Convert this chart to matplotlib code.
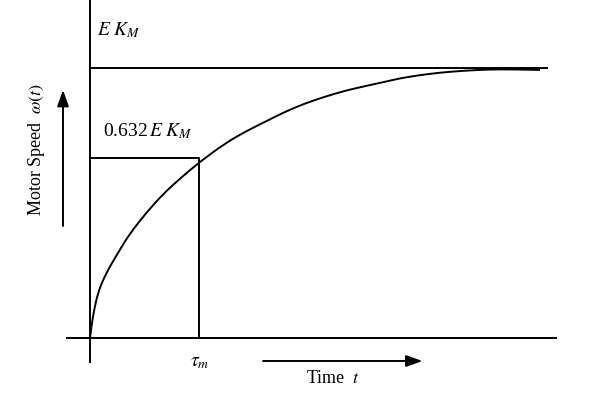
import matplotlib.pyplot as plt
import matplotlib as mpl
from matplotlib.path import Path
from matplotlib.patches import PathPatch

# curve (t in units of tau_m, speed in units of E*K_M)
t_curve = [0.0, 0.012, 0.037, 0.073, 0.119, 0.181, 0.272, 0.367, 0.520, 0.672,
           0.826, 1.009, 1.239, 1.422, 1.606, 1.789, 1.972, 2.156, 2.339, 2.523,
           2.706, 2.844, 3.028, 3.211, 3.422, 3.670, 3.881, 4.128]
w_curve = [0.0, 0.042, 0.104, 0.167, 0.215, 0.264, 0.326, 0.388, 0.466, 0.534,
           0.591, 0.653, 0.721, 0.764, 0.801, 0.838, 0.869, 0.894, 0.916, 0.933,
           0.949, 0.962, 0.974, 0.983, 0.990, 0.995, 0.995, 0.993]

tau_m = 1.0          # time constant
level_ekm = 1.0      # final value E K_M
level_632 = 0.667    # marked level as drawn

mpl.rcParams['font.family'] = ['Liberation Serif', 'DejaVu Serif']
mpl.rcParams['mathtext.fontset'] = 'stix'

fig = plt.figure(figsize=(5.9, 3.98), dpi=100)
ax = fig.add_axes([0, 0, 1, 1])
ax.set_xlim(-0.826, 4.587)
ax.set_ylim(-0.222, 1.252)
ax.axis('off')

lw = 1.4
# axes lines
ax.plot([0, 0], [-0.089, 1.252], color='black', lw=lw)
ax.plot([-0.211, 4.275], [0, 0], color='black', lw=lw)
# final value line
ax.plot([0, 4.193], [level_ekm, level_ekm], color='black', lw=lw)
# 63.2% box
ax.plot([0, tau_m, tau_m], [level_632, level_632, 0], color='black', lw=lw)

# response curve, drawn as a smooth path through the read points
pts = list(zip(t_curve, w_curve))
verts = [pts[0]]
codes = [Path.MOVETO]
for i in range(1, len(pts) - 1):
    mid = ((pts[i][0] + pts[i + 1][0]) / 2, (pts[i][1] + pts[i + 1][1]) / 2)
    verts += [pts[i], mid]
    codes += [Path.CURVE3, Path.CURVE3]
verts.append(pts[-1])
codes.append(Path.LINETO)
ax.add_patch(PathPatch(Path(verts, codes), facecolor='none', edgecolor='black', lw=lw))

# arrows
arr = dict(arrowstyle='-|>,head_length=0.7,head_width=0.25', color='black',
           lw=lw, mutation_scale=14, shrinkA=0, shrinkB=0)
ax.annotate('', xy=(-0.248, 0.919), xytext=(-0.248, 0.415), arrowprops=arr)
ax.annotate('', xy=(3.05, -0.085), xytext=(1.587, -0.085), arrowprops=arr)

# labels
fs = 14
ax.text(0.064, 1.141, r'$E\ K_M$', fontsize=fs, va='center', ha='left')
ax.text(0.119, 0.767, r'0.632$\,E\ K_M$', fontsize=fs, va='center', ha='left')
ax.text(-0.495, 0.70, r'Motor Speed  $\omega(t)$', fontsize=13, rotation=90,
        va='center', ha='center')
ax.text(1.009, -0.089, r'$\tau_m$', fontsize=fs, va='center', ha='center')
ax.text(2.23, -0.148, r'Time  $t$', fontsize=13, va='center', ha='center')

fig.savefig('out.png', dpi=100)
